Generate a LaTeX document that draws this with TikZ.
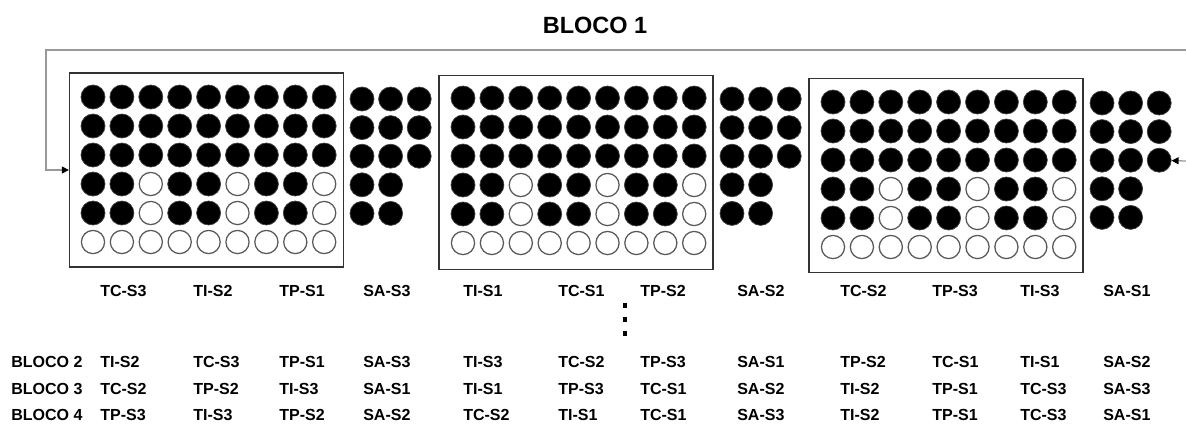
\documentclass[tikz,border=0pt]{standalone}
\usepackage{fontspec}
\setmainfont{Liberation Sans}
\usetikzlibrary{arrows.meta}
\tikzset{
  peg/.style   = {circle, draw=black!75, fill=black, line width=0.5pt,
                  minimum size=0.6cm, inner sep=0pt},       % filled well
  hole/.style  = {circle, draw=black!65, fill=white, line width=0.9pt,
                  minimum size=0.58cm, inner sep=0pt},      % empty well
  plate/.style = {rectangle, draw=black!80, line width=0.9pt,
                  minimum width=6.85cm, minimum height=4.85cm, inner sep=0pt},
  tag/.style   = {anchor=west, inner sep=0pt,
                  font=\bfseries\fontsize{11.4}{13}\selectfont},
  link/.style  = {draw=black!40, line width=0.9pt,
                  -{Triangle[length=5pt, width=5pt, color=black]}}
}

\begin{document}
\begin{tikzpicture}[x=0.025cm, y=-0.025cm]
  \useasboundingbox (0,0) rectangle (1186,423);
  \node[font=\bfseries\fontsize{16.7}{20}\selectfont] (title) at (595,25) {BLOCO 1};
  % plates
  \node[plate] (box1) at (206.5,170) {};
  \node[plate] (box2) at (576,172.5) {};
  \node[plate] (box3) at (946,175.5) {};
  % wells inside the plates
  \foreach \bx/\by [count=\b] in {93/97, 463/98, 833/102} {
    \foreach \c in {0,...,8} {
      \foreach \r in {0,...,5} {
        \pgfmathtruncatemacro\open{or(\r==5, and(\r>2, mod(\c,3)==2))}
        \ifnum\open=1 \def\kind{hole}\else \def\kind{peg}\fi
        \node[\kind] (c\b-\r-\c) at ({\bx+28.9*\c},{\by+29*\r}) {};
      }
    }
  }
  % spare wells beside the plates
  \foreach \sx/\sy [count=\b] in {362/99, 732/99, 1102/103} {
    \foreach \r in {0,...,4} {
      \pgfmathtruncatemacro\last{\r<3 ? 2 : 1}
      \foreach \c in {0,...,\last}
        \node[peg] (s\b-\r-\c) at ({\sx+28.6*\c},{\sy+28.6*\r}) {};
    }
  }
  % return line
  \coordinate (loopR) at (1186,50);
  \coordinate (feedR) at (1186,161);
  \draw[link] (loopR) -- ++(-1140,0) |- (box1.west);
  \draw[link] (feedR) -- (s3-2-2);
  % treatment labels
  \foreach \lx/\lt [count=\i] in {100/TC-S3, 193/TI-S2, 279/TP-S1, 363/SA-S3,
      463/TI-S1, 558/TC-S1, 640/TP-S2, 737/SA-S2, 840/TC-S2, 932/TP-S3, 1020/TI-S3, 1103/SA-S1}
    \node[tag] (a\i) at (\lx,291) {\lt};
  \foreach \dy in {305,319,333}
    \fill (623,\dy-2.5) rectangle ++(4,5);
  \node[tag] (bloco2) at (11,362) {BLOCO 2};
  \node[tag] (bloco3) at (11,389) {BLOCO 3};
  \node[tag] (bloco4) at (11,415) {BLOCO 4};
  \foreach \lx/\lt [count=\i] in {100/TI-S2, 193/TC-S3, 279/TP-S1, 363/SA-S3,
      463/TI-S3, 558/TC-S2, 640/TP-S3, 737/SA-S1, 840/TP-S2, 932/TC-S1, 1020/TI-S1, 1103/SA-S2}
    \node[tag] (b\i) at (\lx,362) {\lt};
  \foreach \lx/\lt [count=\i] in {100/TC-S2, 193/TP-S2, 279/TI-S3, 363/SA-S1,
      463/TI-S1, 558/TP-S3, 640/TC-S1, 737/SA-S2, 840/TI-S2, 932/TP-S1, 1020/TC-S3, 1103/SA-S3}
    \node[tag] (d\i) at (\lx,389) {\lt};
  \foreach \lx/\lt [count=\i] in {100/TP-S3, 193/TI-S3, 279/TP-S2, 363/SA-S2,
      463/TC-S2, 558/TI-S1, 640/TC-S1, 737/SA-S3, 840/TI-S2, 932/TP-S1, 1020/TC-S3, 1103/SA-S1}
    \node[tag] (e\i) at (\lx,415) {\lt};
\end{tikzpicture}
\end{document}
